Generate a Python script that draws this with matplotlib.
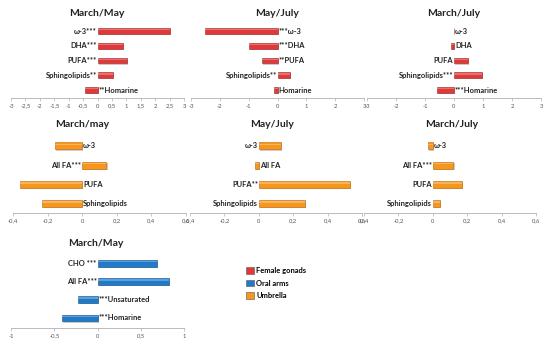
"""Fold-change bar panels for three jellyfish tissues (gonads, umbrella, oral arms)."""

import matplotlib
matplotlib.use("Agg")
import matplotlib.pyplot as plt
from matplotlib.patches import Patch
import matplotlib.patheffects as pe
import numpy as np

plt.rcParams["font.family"] = ["Lato", "DejaVu Sans"]

W, H = 550, 347

RED = "#e0393b"
BLUE = "#1f7bc9"
ORANGE = "#f7961d"
EDGES = {RED: "#9a2a22", BLUE: "#1a4f80", ORANGE: "#b8650a"}

# female gonads (bottom category first)
gon_mm_labels = ["**Homarine", "Sphingolipids**", "PUFA***", "DHA***", "ω-3***"]
gon_mm_values = [-0.42, 0.55, 1.02, 0.88, 2.5]
gon_mj_labels = ["Homarine", "Sphingolipids**", "**PUFA", "***DHA", "***ω-3"]
gon_mj_values = [-0.12, 0.43, -0.53, -0.98, -2.52]
gon_mrj_labels = ["***Homarine", "Sphingolipids***", "PUFA", "DHA", "ω-3"]
gon_mrj_values = [-0.57, 0.97, 0.49, -0.10, -0.01]

# umbrella
umb_mm_labels = ["Sphingolipids", "PUFA", "All FA***", "ω-3"]
umb_mm_values = [-0.23, -0.36, 0.14, -0.16]
umb_mj_labels = ["Sphingolipids", "PUFA**", "All FA", "ω-3"]
umb_mj_values = [0.27, 0.53, -0.02, 0.13]
umb_mrj_labels = ["Sphingolipids", "PUFA", "All FA***", "ω-3"]
umb_mrj_values = [0.04, 0.17, 0.12, -0.03]

# oral arms
arm_mm_labels = ["***Homarine", "***Unsaturated", "All FA***", "CHO ***"]
arm_mm_values = [-0.41, -0.22, 0.83, 0.69]

legend_labels = ["Female gonads", "Oral arms", "Umbrella"]
legend_colors = [RED, BLUE, ORANGE]


def fmt(v):
    v = round(v, 2)
    s = f"{v:g}"
    return s.replace(".", ",")


def panel(fig, x0, x1, top, bottom, c0, step, xlim, ticks, labels, values, color,
          title, title_x, title_y, bar_h=0.4):
    ax = fig.add_axes([x0 / W, 1 - bottom / H, (x1 - x0) / W, (bottom - top) / H])
    y = np.arange(len(values))
    bars = ax.barh(y, values, height=bar_h, color=color, edgecolor=EDGES[color],
                   linewidth=0.4)
    for b in bars:
        b.set_path_effects([pe.SimplePatchShadow(offset=(0.8, -0.8), alpha=0.25),
                            pe.Normal()])
    # light bevel stripe along the top of each bar
    ax.barh(y + bar_h * 0.22, values, height=bar_h * 0.22, color="white",
            alpha=0.28, linewidth=0)
    ax.set_xlim(*xlim)
    ax.set_ylim((c0 - bottom) / step, (c0 - top) / step)
    ax.set_xticks(ticks)
    ax.set_xticklabels([fmt(t) for t in ticks], fontsize=4.2, color="#555555")
    ax.set_yticks([])
    for s in ("left", "right", "top"):
        ax.spines[s].set_visible(False)
    ax.spines["bottom"].set_color("#b0b0b0")
    ax.spines["bottom"].set_linewidth(0.6)
    ax.tick_params(axis="x", length=2, width=0.5, color="#b0b0b0", pad=2)
    ax.patch.set_alpha(0)
    span = xlim[1] - xlim[0]
    for yi, (lab, v) in enumerate(zip(labels, values)):
        if v > 0:
            ax.text(-span * 0.004, yi, lab, ha="right", va="center", fontsize=5.4,
                    fontweight="bold", color="#222222")
        else:
            ax.text(span * 0.006, yi, lab, ha="left", va="center", fontsize=5.4,
                    fontweight="bold", color="#222222")
    fig.text(title_x / W, 1 - title_y / H, title, ha="center", va="center",
             fontsize=7.5, fontweight="bold", color="#222222")
    return ax


fig = plt.figure(figsize=(W / 100, H / 100), dpi=100)

t3 = np.arange(-3, 3.01, 0.5)
t3i = np.arange(-3, 3.01, 1)
t6 = np.round(np.arange(-0.4, 0.61, 0.2), 1)
t1 = np.arange(-1, 1.01, 0.5)

# top row: female gonads
panel(fig, 11, 184, 20, 98, 90, 14.75, (-3, 3), t3, gon_mm_labels, gon_mm_values,
      RED, "March/May", 97, 13)
panel(fig, 191, 364, 20, 98, 90, 14.75, (-3, 3), t3i, gon_mj_labels, gon_mj_values,
      RED, "May/July", 277, 13)
panel(fig, 367, 541, 20, 98, 90, 14.75, (-3, 3), t3i, gon_mrj_labels, gon_mrj_values,
      RED, "March/July", 454, 13)

# middle row: umbrella
panel(fig, 13, 186, 135, 213, 203.5, 19.2, (-0.4, 0.6), t6, umb_mm_labels, umb_mm_values,
      ORANGE, "March/may", 82, 124, bar_h=0.37)
panel(fig, 190, 362, 135, 213, 203.5, 19.2, (-0.4, 0.6), t6, umb_mj_labels, umb_mj_values,
      ORANGE, "May/July", 272, 124, bar_h=0.37)
panel(fig, 364, 536, 135, 213, 203.5, 19.2, (-0.4, 0.6), t6, umb_mrj_labels, umb_mrj_values,
      ORANGE, "March/July", 452, 124, bar_h=0.37)

# bottom row: oral arms
panel(fig, 11, 184, 252, 328, 318, 18.3, (-1, 1), t1, arm_mm_labels, arm_mm_values,
      BLUE, "March/May", 96, 243, bar_h=0.38)

handles = [Patch(facecolor=c, edgecolor="#555555", linewidth=0.4) for c in legend_colors]
fig.legend(handles, legend_labels, loc="upper left", bbox_to_anchor=(246 / W, 1 - 267 / H),
           frameon=False, prop={"size": 5.4, "weight": "bold"}, handlelength=1.0,
           handleheight=1.0, labelspacing=0.75, handletextpad=0.35, borderpad=0,
           borderaxespad=0)

fig.savefig("out.png", dpi=100)
